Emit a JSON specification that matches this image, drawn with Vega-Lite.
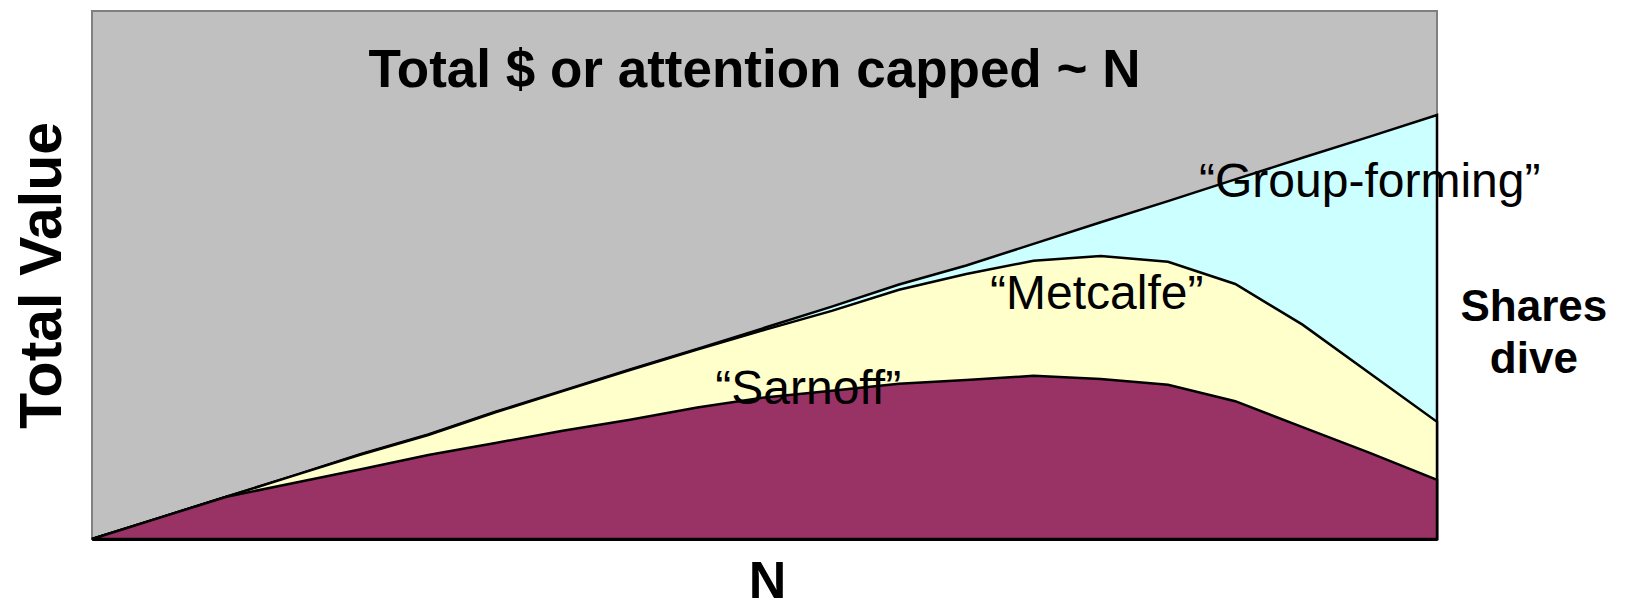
{
  "$schema": "https://vega.github.io/schema/vega-lite/v6.json",
  "width": 1345,
  "height": 528,
  "autosize": {"type": "none"},
  "padding": {"left": 92, "top": 11, "right": 188, "bottom": 70},
  "background": "white",
  "config": {
    "view": {"fill": "#C0C0C0", "stroke": "#808080", "strokeWidth": 2},
    "font": "Liberation Sans"
  },
  "datasets": {
    "series": [
      {"i": 0, "top": 0, "met": 0, "sar": 0},
      {"i": 1, "top": 4.0, "met": 4.0, "sar": 4.0},
      {"i": 2, "top": 8.0, "met": 8.0, "sar": 8.0},
      {"i": 3, "top": 12.0, "met": 12.0, "sar": 10.6},
      {"i": 4, "top": 16.1, "met": 16.0, "sar": 13.2},
      {"i": 5, "top": 19.8, "met": 19.7, "sar": 15.9},
      {"i": 6, "top": 24.1, "met": 24.0, "sar": 18.2},
      {"i": 7, "top": 28.1, "met": 28.0, "sar": 20.5},
      {"i": 8, "top": 32.1, "met": 32.0, "sar": 22.6},
      {"i": 9, "top": 36.0, "met": 35.9, "sar": 24.9},
      {"i": 10, "top": 40.0, "met": 39.6, "sar": 26.8},
      {"i": 11, "top": 44.0, "met": 43.2, "sar": 28.1},
      {"i": 12, "top": 48.2, "met": 47.2, "sar": 29.4},
      {"i": 13, "top": 51.8, "met": 50.2, "sar": 30.1},
      {"i": 14, "top": 55.9, "met": 52.7, "sar": 30.9},
      {"i": 15, "top": 60.0, "met": 53.6, "sar": 30.3},
      {"i": 16, "top": 64.0, "met": 52.5, "sar": 29.2},
      {"i": 17, "top": 68.1, "met": 48.3, "sar": 26.1},
      {"i": 18, "top": 72.2, "met": 40.6, "sar": 21.2},
      {"i": 19, "top": 76.2, "met": 31.4, "sar": 16.3},
      {"i": 20, "top": 80.3, "met": 22.2, "sar": 11.2}
    ],
    "titleText": [
      {"label": "Total $ or attention capped ~ N", "x": 9.85, "y": 85.7}
    ],
    "quoteLabels": [
      {"label": "“Group-forming”", "x": 19.0, "y": 64.8},
      {"label": "“Metcalfe”", "x": 14.94, "y": 43.5},
      {"label": "“Sarnoff”", "x": 10.65, "y": 25.6}
    ],
    "sideText": [
      {"label": "Shares\ndive", "x": 21.44, "y": 41.3}
    ]
  },
  "layer": [
    {
      "data": {"name": "series"},
      "mark": {"type": "area", "fill": "#CCFFFF", "stroke": "black", "strokeWidth": 2.5, "strokeJoin": "miter"},
      "encoding": {
        "x": {
          "field": "i", "type": "quantitative",
          "scale": {"domain": [0, 20], "nice": false, "zero": false},
          "axis": {
            "title": "N", "labels": false, "ticks": false, "grid": false,
            "domain": true, "domainColor": "black", "domainWidth": 3,
            "titleFont": "Liberation Sans", "titleFontSize": 52, "titleFontWeight": "bold",
            "titleColor": "black", "titleBaseline": "bottom", "titleY": 69, "titleX": 675,
            "zindex": 1
          }
        },
        "y": {
          "field": "top", "type": "quantitative",
          "scale": {"domain": [0, 100], "nice": false},
          "axis": {
            "title": "Total Value", "labels": false, "ticks": false, "grid": false, "domain": false,
            "titleFont": "Liberation Sans", "titleFontSize": 59, "titleFontWeight": "bold",
            "titleColor": "black", "titleAngle": -90, "titleBaseline": "alphabetic",
            "titleAlign": "center", "titleX": -32, "titleY": 264
          }
        }
      }
    },
    {
      "data": {"name": "series"},
      "mark": {"type": "area", "fill": "#FFFFCC", "stroke": "black", "strokeWidth": 2.5, "strokeJoin": "miter"},
      "encoding": {
        "x": {"field": "i", "type": "quantitative"},
        "y": {"field": "met", "type": "quantitative"}
      }
    },
    {
      "data": {"name": "series"},
      "mark": {"type": "area", "fill": "#993366", "stroke": "black", "strokeWidth": 2.5, "strokeJoin": "miter"},
      "encoding": {
        "x": {"field": "i", "type": "quantitative"},
        "y": {"field": "sar", "type": "quantitative"}
      }
    },
    {
      "data": {"name": "titleText"},
      "mark": {"type": "text", "font": "Liberation Sans", "fontSize": 53, "fontWeight": "bold", "color": "black", "align": "center", "baseline": "alphabetic"},
      "encoding": {
        "x": {"field": "x", "type": "quantitative"},
        "y": {"field": "y", "type": "quantitative"},
        "text": {"field": "label"}
      }
    },
    {
      "data": {"name": "quoteLabels"},
      "mark": {"type": "text", "font": "Liberation Sans", "fontSize": 48, "color": "black", "align": "center", "baseline": "alphabetic"},
      "encoding": {
        "x": {"field": "x", "type": "quantitative"},
        "y": {"field": "y", "type": "quantitative"},
        "text": {"field": "label"}
      }
    },
    {
      "data": {"name": "sideText"},
      "mark": {"type": "text", "font": "Liberation Sans", "fontSize": 44, "fontWeight": "bold", "color": "black", "align": "center", "baseline": "alphabetic", "lineBreak": "\n", "lineHeight": 52},
      "encoding": {
        "x": {"field": "x", "type": "quantitative"},
        "y": {"field": "y", "type": "quantitative"},
        "text": {"field": "label"}
      }
    }
  ]
}
